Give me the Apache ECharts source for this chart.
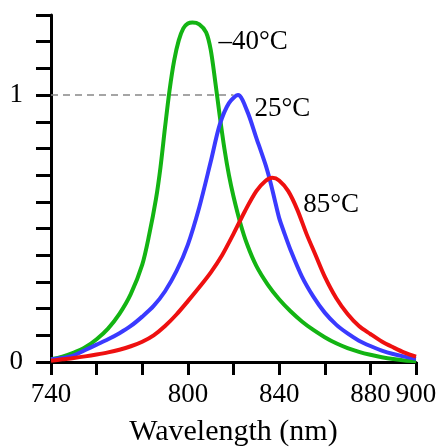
<!DOCTYPE html>
<html><head><meta charset="utf-8">
<script src="https://cdn.jsdelivr.net/npm/echarts@6/dist/echarts.min.js"></script>
<style>html,body{margin:0;padding:0;background:#fff}#c{width:437px;height:447px}</style>
</head><body><div id="c"></div>
<script>
const greenX = [740,745,750,755,760,765,770,775,780,783,786,788,790,792,794,796,798,800,802,805,808,810,812,814,816,818,820,823,826,830,835,840,845,850,855,860,865,870,875,880,885,890,895,900];
const greenY = [0.01,0.02,0.035,0.055,0.085,0.125,0.18,0.255,0.365,0.475,0.61,0.73,0.88,1.02,1.13,1.205,1.25,1.268,1.272,1.265,1.235,1.17,1.05,0.92,0.80,0.70,0.62,0.52,0.44,0.36,0.29,0.235,0.19,0.152,0.12,0.093,0.07,0.052,0.038,0.027,0.018,0.011,0.006,0.003];
const blueX = [740,745,750,755,760,765,770,775,780,785,790,795,800,805,810,814,818,822,826,830,834,836,838,840,842,845,850,855,860,865,870,875,880,885,890,895,900];
const blueY = [0.01,0.015,0.025,0.045,0.065,0.085,0.108,0.135,0.17,0.21,0.265,0.34,0.44,0.58,0.75,0.89,0.97,1.0,0.94,0.84,0.74,0.68,0.61,0.54,0.49,0.42,0.32,0.245,0.185,0.14,0.107,0.08,0.06,0.043,0.03,0.02,0.012];
const redX = [740,745,750,755,760,765,770,775,780,785,790,795,800,805,810,815,820,825,830,834,837,840,844,848,852,856,860,865,870,875,880,885,890,895,900];
const redY = [0.005,0.01,0.015,0.021,0.028,0.036,0.046,0.059,0.076,0.10,0.135,0.178,0.228,0.28,0.335,0.40,0.48,0.565,0.64,0.678,0.69,0.68,0.64,0.57,0.48,0.40,0.32,0.24,0.18,0.135,0.105,0.077,0.055,0.035,0.02];
const refX = [740,820];
const refY = [1,1];
const xTickLabels = [740,800,840,880,900];
const yTickLabels = [0,1];
const seriesNames = ['\u201340\u00B0C','25\u00B0C','85\u00B0C'];
const labelAt = [[813.4,1.2],[829.2,0.95],[850.6,0.59]];
const xName = 'Wavelength (nm)';

const zip = (a,b)=>a.map((v,i)=>[v,b[i]]);
const FONT = "'Liberation Serif', 'Times New Roman', serif";
const colors = ['#13b413','#3a3aff','#ee1010'];
const xs=[greenX,blueX,redX], ys=[greenY,blueY,redY];

const chart = echarts.init(document.getElementById('c'));
const series = xs.map((x,i)=>({
  type:'line', name:seriesNames[i], data:zip(x,ys[i]), smooth:0.3, showSymbol:false,
  lineStyle:{color:colors[i],width:4}, itemStyle:{color:colors[i]}, z:3, silent:true,
  markPoint:{symbol:'circle',symbolSize:0.001,silent:true,
    data:[{coord:labelAt[i],value:seriesNames[i]}],
    label:{show:true,position:'right',distance:0,formatter:seriesNames[i],color:'#000',fontFamily:FONT,fontSize:27}}
}));
series.unshift({type:'line',data:zip(refX,refY),showSymbol:false,silent:true,z:1,
  lineStyle:{color:'#888',width:1.5,type:[7,5]}});
chart.setOption({
  animation:false,
  grid:{left:51,right:21,top:15,bottom:85,containLabel:false,outerBoundsMode:'none'},
  xAxis:{type:'value',min:740,max:900,interval:20,
    name:xName,nameLocation:'middle',nameGap:55,
    nameTextStyle:{fontFamily:FONT,fontSize:30,color:'#000'},
    axisLine:{show:true,onZero:false,lineStyle:{color:'#000',width:3}},
    axisTick:{show:true,inside:false,length:13,lineStyle:{color:'#000',width:3}},
    splitLine:{show:false},
    axisLabel:{margin:19,fontFamily:FONT,fontSize:27,color:'#000',hideOverlap:false,showMinLabel:true,showMaxLabel:true,
      formatter:v=>xTickLabels.includes(Math.round(v))?String(Math.round(v)):''}},
  yAxis:{type:'value',min:0,max:1.3,interval:0.1,
    axisLine:{show:true,lineStyle:{color:'#000',width:3}},
    axisTick:{show:true,inside:false,length:15,lineStyle:{color:'#000',width:3}},
    splitLine:{show:false},
    axisLabel:{margin:28,fontFamily:FONT,fontSize:27,color:'#000',
      formatter:v=>{const r=Math.round(v*10)/10;return yTickLabels.includes(r)?String(r):'';}}},
  series
});
</script></body></html>
